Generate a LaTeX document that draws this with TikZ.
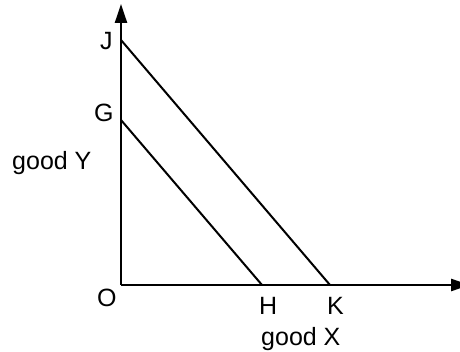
\documentclass[tikz,border=0pt]{standalone}
\usepackage{fontspec}
\setmainfont{Liberation Sans}
\usetikzlibrary{arrows.meta}
\begin{document}
\begin{tikzpicture}[x=1pt,y=-1pt,
  lbl/.style={anchor=base west,inner sep=0pt,font=\fontsize{25}{28}\selectfont},
  axisline/.style={line width=2.4pt,-{Triangle[length=19pt,width=12pt]}},
  budget/.style={line width=2pt}]
\useasboundingbox (0,0) rectangle (460,352);
\coordinate (O) at (121,285);
\coordinate (Ytip) at (121,4);
\coordinate (Xtip) at (470,285);
\coordinate (J) at (121,40);
\coordinate (G) at (121,120);
\coordinate (H) at (262,285);
\coordinate (K) at (330,285);
\draw[axisline] (O) -- (Ytip);
\draw[axisline] (O) -- (Xtip);
\draw[budget] (J) -- (K);
\draw[budget] (G) -- (H);
\node[lbl] (lJ) at (100,50) {J};
\node[lbl] (lG) at (94,122) {G};
\node[lbl] (lY) at (12,170) {good Y};
\node[lbl] (lO) at (97,307) {O};
\node[lbl] (lH) at (259,315) {H};
\node[lbl] (lK) at (327,315) {K};
\node[lbl] (lX) at (261,345) {good X};
\end{tikzpicture}
\end{document}
